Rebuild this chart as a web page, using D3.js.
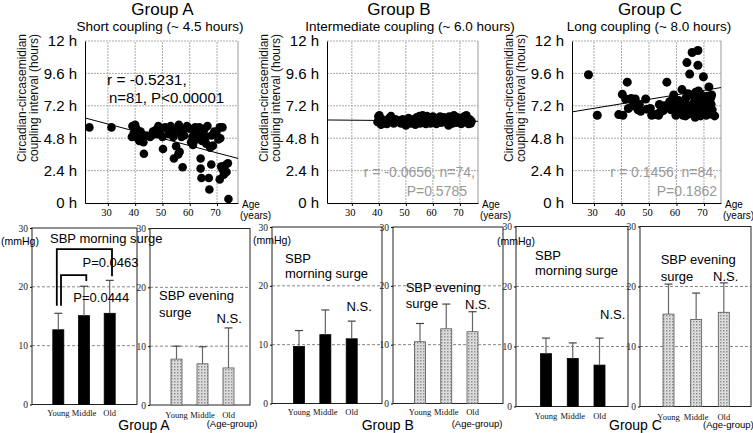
<!DOCTYPE html>
<html><head><meta charset="utf-8">
<script src="https://cdn.jsdelivr.net/npm/d3@7"></script>
<style>body{margin:0;background:#fff}svg{display:block}</style>
</head><body>
<svg id="c" width="753" height="433"></svg>
<script>
// ---------- DATA ----------
const hourTicks = [0, 2.4, 4.8, 7.2, 9.6, 12];
const ageTicks = [30, 40, 50, 60, 70];
const ageGroups = ["Young", "Middle", "Old"];
const mmHgTicks = [0, 10, 20, 30];

// Group A scatter (n=81)
const agesA = [23.2,31.3,39,40,40.5,39.5,40,41,41.5,42,42.5,43,44,40.8,38.8,43.2,45.5,46.5,47.5,48.5,
  49,50,50.2,51,52,52.5,53,53.5,54,54.2,55,55,55.8,56,56.5,56.3,57,57.4,57.5,58,
  59,60,60.5,61,61.2,62,62,62.5,63,63.5,64,64,64.3,64.5,65,65.5,66,66,66.5,67,
  67.2,67.5,67.9,68.5,68,69,69.8,70.5,71,71.2,71,71.5,72,72.5,73,73.5,74,74.2,72,46,48];
const hoursA = [5.6,5.6,5.7,5.8,5.5,5.2,4.9,5.0,4.6,5.3,4.8,4.5,5.0,5.3,4.9,3.65,4.9,5.3,5.4,5.7,
  5.2,4.9,4.0,5.6,5.4,5.1,5.7,5.3,4.9,3.3,5.5,4.2,3.6,5.8,5.2,3.8,4.9,2.65,5.4,5.0,
  5.7,5.5,4.5,4.9,4.3,5.3,5.6,4.7,5.0,5.6,3.3,2.55,1.85,4.6,5.2,5.5,4.4,4.9,5.7,1.85,
  1.0,4.1,2.85,4.25,5.0,5.3,5.2,4.7,5.6,4.8,1.75,2.7,2.5,2.1,2.8,2.3,2.95,0.3,5.6,5.0,5.1];
const fitA = [6.3, 3.3];

// Group B scatter (n=74)
const agesB = [39.5,39.8,40.2,40.5,40.8,41.2,41.8,42.5,43.0,43.8,44.5,45.0,45.5,46.2,46.8,47.5,48.2,48.8,49.5,50.0,
  50.3,51.0,51.8,52.5,53.0,53.5,54.0,54.5,55.0,55.3,55.8,56.2,56.6,57.0,57.4,57.8,58.2,58.7,59.1,59.5,
  60.0,60.4,60.8,61.3,61.8,62.2,62.7,63.1,63.6,64.0,64.5,65.0,65.5,66.0,66.4,66.9,67.3,67.8,68.2,68.6,
  69.0,69.5,70.0,70.5,71.0,71.5,72.0,72.4,72.8,73.2,73.6,74.0,74.3,65.8];
const hoursB = [6.0,6.4,6.5,6.1,5.8,6.2,5.9,6.0,5.85,6.3,6.45,6.1,5.9,6.2,6.0,6.1,5.9,6.2,6.0,5.75,
  6.1,6.3,5.9,6.0,6.2,5.8,6.35,6.0,6.45,5.9,6.2,6.5,6.0,6.3,5.85,6.45,6.1,6.35,5.9,6.2,
  6.4,6.0,6.25,5.85,6.3,6.1,6.4,5.95,6.2,6.35,6.0,6.3,5.9,6.4,6.1,6.3,5.9,6.5,6.2,5.95,
  6.35,6.1,6.3,5.85,6.2,6.4,6.0,6.5,6.1,5.85,6.2,5.9,6.05,5.75];
const fitB = [6.15, 6.05];

// Group C scatter (n=84)
const agesC = [28,31.2,39,40.5,40.3,41.5,42.1,42.5,44,45,46,47,48.8,49.2,51,52.5,53.8,54,55.2,56.5,
  57.5,58.5,59.3,59.8,60.5,61.5,62,62.3,62.4,63,63.5,63.8,64,64.5,64.8,65.3,65.7,66,66.2,66.5,
  67,67,67.2,67.8,67.8,68.2,68.8,68.5,69,69.8,70,70.2,70.4,70.8,71,71.5,71.8,72,72.3,72.5,
  72.6,73,73.9,61,60.8,58,57,55.8,53.5,50.5,46.5,43.5,65,69.5,71.3,63.3,66.8,69.2,71.6,68,
  64.2,59,54.6,72.8];
const hoursC = [9.5,6.5,6.55,6.5,8.05,7.7,8.95,7.0,7.2,7.7,6.9,6.8,7.7,6.95,6.5,6.55,7.3,6.7,6.85,8.95,
  7.5,7.65,7.2,6.5,7.0,7.5,8.4,6.85,6.5,7.4,7.8,10.4,7.2,6.6,9.55,8.0,11.15,6.7,7.4,6.5,
  8.2,7.7,7.15,11.3,10.2,6.8,6.45,7.5,8.0,9.35,7.7,7.2,6.8,6.5,7.9,7.5,8.6,7.0,6.6,7.8,
  7.3,6.9,6.45,6.7,7.6,6.9,7.1,7.2,6.5,7.0,7.3,7.75,7.0,6.9,6.8,6.45,6.35,7.25,7.1,8.3,
  8.1,8.0,7.0,8.0];
const fitC = [6.75, 8.55];

// SBP surges (mmHg): means and SD by age group
const morningA = [12.7, 15.1, 15.5];  const morningA_sd = [2.8, 5.0, 5.6];
const eveningA = [7.8, 7.0, 6.3];     const eveningA_sd = [2.2, 2.9, 6.8];
const morningB = [9.7, 11.7, 11.0];   const morningB_sd = [2.7, 4.2, 3.0];
const eveningB = [10.5, 12.7, 12.2];  const eveningB_sd = [3.1, 4.2, 3.4];
const morningC = [8.8, 8.0, 6.9];     const morningC_sd = [2.6, 2.6, 4.5];
const eveningC = [15.4, 14.5, 15.7];  const eveningC_sd = [5.0, 4.4, 4.9];

// ---------- DRAWING ----------
const SANS = "Arial, 'Liberation Sans', Helvetica, sans-serif";
const SERIF = "'Times New Roman', 'Liberation Serif', serif";
const svg = d3.select("#c");

const defs = svg.append("defs");
const pat = defs.append("pattern").attr("id","dots").attr("width",3).attr("height",3)
  .attr("patternUnits","userSpaceOnUse");
pat.append("rect").attr("width",3).attr("height",3).attr("fill","#e4e4e4");
pat.append("rect").attr("width",1.5).attr("height",1.5).attr("fill","#8c8c8c");
pat.append("rect").attr("x",1.5).attr("y",1.5).attr("width",1).attr("height",1).attr("fill","#b5b5b5");

function text(g, str, x, y, o = {}) {
  return g.append("text").attr("x", x).attr("y", y).text(str)
    .attr("font-family", o.family || SANS).attr("font-size", o.size || 13)
    .attr("fill", o.fill || "#000").attr("text-anchor", o.anchor || "start");
}

function drawScatter(p) {
  const x = d3.scaleLinear().domain(p.xDomain).range(p.xRange);
  const y = d3.scaleLinear().domain([0, 12]).range([203, 41]);
  const [x0, x1] = p.xRange;
  const g = svg.append("g");
  g.selectAll(".hg").data(hourTicks.filter(d => d > 0)).join("line")
    .attr("x1", x0).attr("x2", x1).attr("y1", d => y(d)).attr("y2", d => y(d))
    .attr("stroke", "#aaa").attr("stroke-dasharray", "2,1");
  g.selectAll(".vg").data(ageTicks).join("line")
    .attr("x1", d => x(d)).attr("x2", d => x(d)).attr("y1", y(0)).attr("y2", y(12))
    .attr("stroke", "#aaa").attr("stroke-dasharray", "2,1");
  g.append("line").attr("x1", x1).attr("x2", x1).attr("y1", y(12)).attr("y2", y(0))
    .attr("stroke", "#999");
  const ya = g.append("g").attr("transform", `translate(${x0},0)`)
    .call(d3.axisLeft(y).tickValues(hourTicks).tickFormat(d => d + " h").tickSize(0).tickSizeOuter(0).tickPadding(8));
  ya.selectAll("text").attr("font-family", SANS).attr("font-size", 15).attr("fill", "#000");
  ya.select(".domain").attr("stroke", "#000");
  const xa = g.append("g").attr("transform", `translate(0,${y(0)})`)
    .call(d3.axisBottom(x).tickValues(ageTicks).tickSize(3).tickSizeOuter(0).tickPadding(3));
  xa.selectAll("text").attr("font-family", SERIF).attr("font-size", 10.5).attr("fill", "#000").attr("dx", -2);
  xa.select(".domain").attr("stroke", "#000");
  // fit line
  g.append("line").attr("x1", x(p.xDomain[0])).attr("y1", y(p.fit[0]))
    .attr("x2", x(p.xDomain[1])).attr("y2", y(p.fit[1])).attr("stroke", "#000").attr("stroke-width", 1);
  // points
  g.selectAll("circle").data(d3.zip(p.ages, p.hours)).join("circle")
    .attr("cx", d => x(d[0])).attr("cy", d => y(d[1])).attr("r", p.r).attr("fill", "#000");
  // titles
  text(g, p.title, p.titleX, 15, {size: 17, anchor: "middle"});
  text(g, p.sub, p.subX, 31, {size: 13.5, anchor: "middle"});
  // y title
  const yt = g.append("g").attr("transform", `translate(${x0 - 59},98) rotate(-90)`);
  text(yt, "Circadian-circasemidian", 0, 0, {size: 12, anchor: "middle", fill: "#111"});
  text(yt, "coupling interval (hours)", 0, 11.5, {size: 12, anchor: "middle", fill: "#111"});
  // Age label
  text(g, "Age", x1 + 4, 208, {size: 10});
  text(g, "(years)", x1 + 2, 219, {size: 10});
  // annotation
  p.notes.forEach(n => text(g, n.t, n.x, n.y, {size: n.s, fill: n.c, anchor: n.a || "start"}));
}

drawScatter({xDomain:[21.6,77.7], xRange:[85,238], ages:agesA, hours:hoursA, fit:fitA, r:4.3,
  title:"Group A", titleX:162.5, sub:"Short coupling (~ 4.5 hours)", subX:160,
  notes:[{t:"r = -0.5231,", x:107, y:85, s:15.5, c:"#000"}, {t:"n=81, P<0.00001", x:109, y:103, s:15, c:"#000"}]});
drawScatter({xDomain:[20.8,76.7], xRange:[327,478], ages:agesB, hours:hoursB, fit:fitB, r:4.3,
  title:"Group B", titleX:399, sub:"Intermediate coupling (~ 6.0 hours)", subX:410,
  notes:[{t:"r = -0.0656, n=74,", x:475, y:177, s:14, c:"#999", a:"end"}, {t:"P=0.5785", x:467, y:196, s:14, c:"#999", a:"end"}]});
drawScatter({xDomain:[22,76.2], xRange:[572,721], ages:agesC, hours:hoursC, fit:fitC, r:4.5,
  title:"Group C", titleX:650, sub:"Long coupling (~ 8.0 hours)", subX:649,
  notes:[{t:"r = 0.1456, n=84,", x:717, y:177, s:14, c:"#999", a:"end"}, {t:"P=0.1862", x:717, y:196, s:14, c:"#999", a:"end"}]});

function drawBars(p) {
  const x = d3.scalePoint().domain(ageGroups).range([p.c0, p.c2]);
  const y = d3.scaleLinear().domain([0, 30]).range(p.yRange);
  const g = svg.append("g");
  const bw = 11;
  g.selectAll(".gl").data([10, 20]).join("line")
    .attr("x1", p.left).attr("x2", p.right).attr("y1", d => y(d)).attr("y2", d => y(d))
    .attr("stroke", "#888").attr("stroke-dasharray", "3,2");
  g.append("rect").attr("x", p.left).attr("y", y(30)).attr("width", p.right - p.left)
    .attr("height", y(0) - y(30)).attr("fill", "none").attr("stroke", "#222");
  const ya = g.append("g").attr("transform", `translate(${p.left},0)`)
    .call(d3.axisLeft(y).tickValues(mmHgTicks).tickSize(2).tickSizeOuter(0).tickPadding(2));
  ya.select(".domain").remove();
  ya.selectAll("text").attr("font-family", SERIF).attr("font-size", 9.5).attr("fill", "#222");
  const rows = ageGroups.map((c, i) => ({c, m: p.means[i], s: p.sd[i]}));
  g.selectAll(".bar").data(rows).join("rect")
    .attr("x", d => x(d.c) - bw / 2).attr("y", d => y(d.m)).attr("width", bw)
    .attr("height", d => y(0) - y(d.m))
    .attr("fill", p.dotted ? "url(#dots)" : "#000")
    .attr("stroke", p.dotted ? "#555" : "#000").attr("stroke-width", 0.8);
  g.selectAll(".eb").data(rows).join("line")
    .attr("x1", d => x(d.c)).attr("x2", d => x(d.c)).attr("y1", d => y(d.m)).attr("y2", d => y(d.m + d.s))
    .attr("stroke", "#666").attr("stroke-width", 1.2);
  g.selectAll(".cap").data(rows).join("line")
    .attr("x1", d => x(d.c) - 4).attr("x2", d => x(d.c) + 4).attr("y1", d => y(d.m + d.s)).attr("y2", d => y(d.m + d.s))
    .attr("stroke", "#444").attr("stroke-width", 1.2);
  g.selectAll(".cl").data(ageGroups).join("text")
    .attr("x", d => x(d)).attr("y", p.labelY).text(d => d)
    .attr("font-family", SERIF).attr("font-size", 8.5).attr("text-anchor", "middle").attr("fill", "#111");
  p.notes.forEach(n => text(g, n.t, n.x, n.y, {size: n.s || 13}));
}

drawBars({means:morningA, sd:morningA_sd, left:32, right:137, c0:58.3, c2:109.7, yRange:[404.5,228], labelY:415.5, dotted:false,
  notes:[{t:"SBP morning surge", x:50, y:243}, {t:"P=0.0463", x:82.5, y:266.5}, {t:"P=0.0444", x:73.3, y:301.5}]});
drawBars({means:eveningA, sd:eveningA_sd, left:150, right:250, c0:176.5, c2:228.5, yRange:[405,228.5], labelY:417.5, dotted:true,
  notes:[{t:"SBP evening", x:159, y:300}, {t:"surge", x:159, y:316.5}, {t:"N.S.", x:216.5, y:322.5}]});
drawBars({means:morningB, sd:morningB_sd, left:272, right:382, c0:299, c2:351.7, yRange:[403.5,227], labelY:415, dotted:false,
  notes:[{t:"SBP", x:285, y:262.5}, {t:"morning surge", x:285, y:278}, {t:"N.S.", x:346.5, y:310.5}]});
drawBars({means:eveningB, sd:eveningB_sd, left:393, right:503, c0:420, c2:472.5, yRange:[403.5,227], labelY:415, dotted:true,
  notes:[{t:"SBP evening", x:405.7, y:291.5}, {t:"surge", x:405.7, y:308}, {t:"N.S.", x:465, y:309}]});
drawBars({means:morningC, sd:morningC_sd, left:516, right:628, c0:546, c2:599.5, yRange:[406.5,226.5], labelY:418.5, dotted:false,
  notes:[{t:"SBP", x:535, y:260}, {t:"morning surge", x:535, y:274.5}, {t:"N.S.", x:600, y:319}]});
drawBars({means:eveningC, sd:eveningC_sd, left:640, right:751, c0:668.5, c2:723.8, yRange:[406.5,226.5], labelY:419.5, dotted:true,
  notes:[{t:"SBP evening", x:660.7, y:264}, {t:"surge", x:660.7, y:281}, {t:"N.S.", x:713, y:281}]});

// significance brackets (Group A morning)
(function () {
  const x = d3.scalePoint().domain(ageGroups).range([58.3, 109.7]);
  const y = d3.scaleLinear().domain([0, 30]).range([404.5, 228]);
  const brackets = [
    {a: "Young", b: "Old", top: 26.4, la: 16.8, lb: 21.8, dx: -1.5},
    {a: "Young", b: "Middle", top: 22.0, la: 16.8, lb: 21.0, dx: 2.7}
  ];
  svg.append("g").selectAll("path").data(brackets).join("path")
    .attr("d", d => `M${x(d.a) + d.dx},${y(d.la)}V${y(d.top)}H${x(d.b) + 2.3}V${y(d.lb)}`)
    .attr("fill", "none").attr("stroke", "#000").attr("stroke-width", 1.8);
})();

// mmHg and group labels
const lab = svg.append("g");
[[1,245],[253,244],[497,245]].forEach(([x,y]) => text(lab, "(mmHg)", x, y, {size: 10.5}));
[["Group A",118.3],["Group B",361.7],["Group C",609]].forEach(([t,x]) => text(lab, t, x, 430, {size: 14}));
[[206.7,427],[451.7,426.5],[703,428]].forEach(([x,y]) => text(lab, "(Age-group)", x, y, {size: 9.5}));
</script>
</body></html>
